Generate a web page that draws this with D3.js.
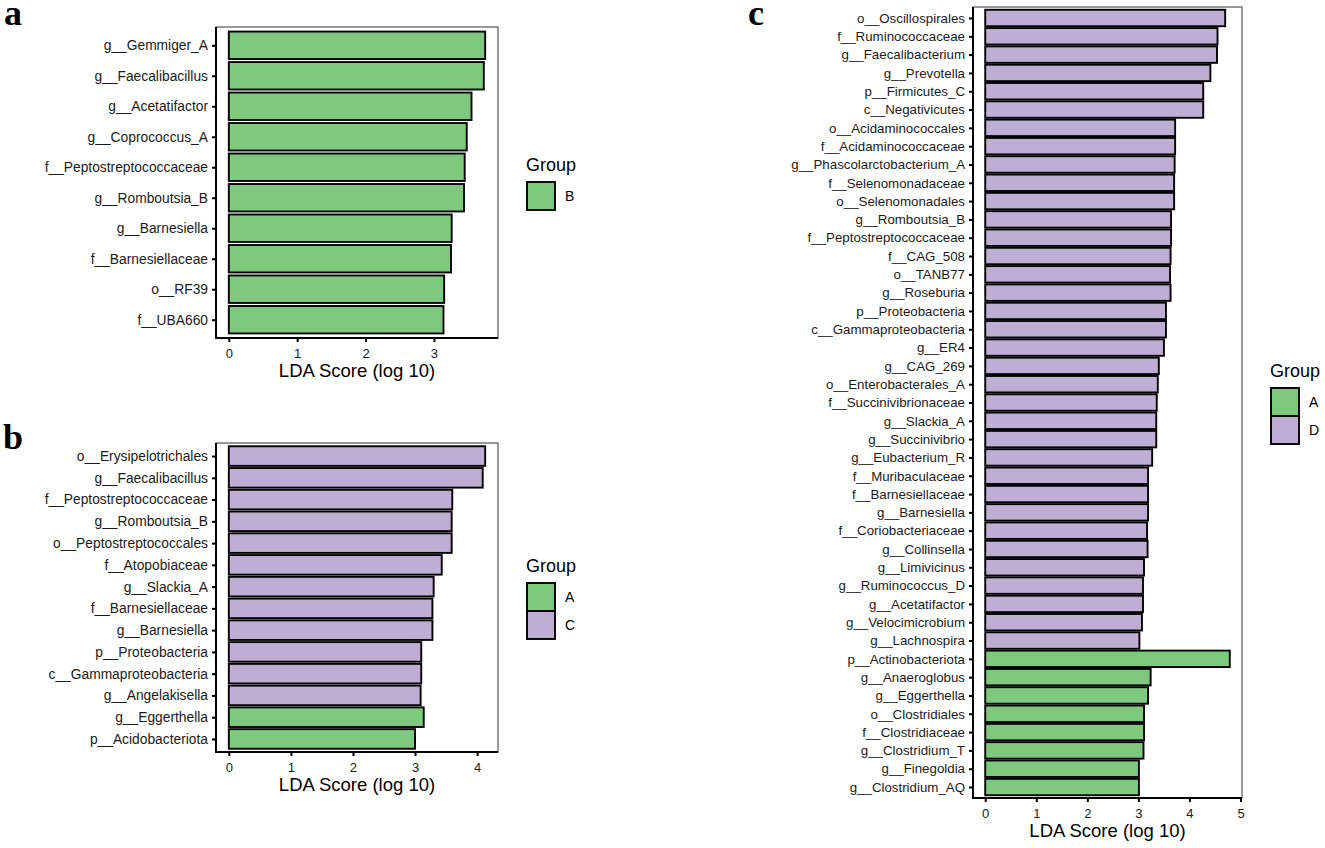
<!DOCTYPE html>
<html>
<head>
<meta charset="utf-8">
<script src="https://cdn.jsdelivr.net/npm/d3@7"></script>
<style>
  body { margin: 0; background: #fff; }
  text { font-family: "Liberation Sans", Arial, sans-serif; }
</style>
</head>
<body>
<svg width="1325" height="848"></svg>
<script>
// colours of the groups (RColorBrewer Accent)
const groupColor = { A: "#7FC97F", B: "#7FC97F", C: "#BEAED4", D: "#BEAED4" };

// panel a
const taxaA = ["g__Gemmiger_A", "g__Faecalibacillus", "g__Acetatifactor", "g__Coprococcus_A",
  "f__Peptostreptococcaceae", "g__Romboutsia_B", "g__Barnesiella", "f__Barnesiellaceae",
  "o__RF39", "f__UBA660"];
const ldaA = [3.75, 3.73, 3.55, 3.48, 3.45, 3.44, 3.26, 3.25, 3.15, 3.14];
const groupA = ["B", "B", "B", "B", "B", "B", "B", "B", "B", "B"];

// panel b
const taxaB = ["o__Erysipelotrichales", "g__Faecalibacillus", "f__Peptostreptococcaceae",
  "g__Romboutsia_B", "o__Peptostreptococcales", "f__Atopobiaceae", "g__Slackia_A",
  "f__Barnesiellaceae", "g__Barnesiella", "p__Proteobacteria", "c__Gammaproteobacteria",
  "g__Angelakisella", "g__Eggerthella", "p__Acidobacteriota"];
const ldaB = [4.13, 4.09, 3.60, 3.59, 3.59, 3.43, 3.30, 3.28, 3.28, 3.10, 3.10, 3.09, 3.14, 3.00];
const groupB = ["C", "C", "C", "C", "C", "C", "C", "C", "C", "C", "C", "C", "A", "A"];

// panel c
const taxaC = ["o__Oscillospirales", "f__Ruminococcaceae", "g__Faecalibacterium", "g__Prevotella",
  "p__Firmicutes_C", "c__Negativicutes", "o__Acidaminococcales", "f__Acidaminococcaceae",
  "g__Phascolarctobacterium_A", "f__Selenomonadaceae", "o__Selenomonadales", "g__Romboutsia_B",
  "f__Peptostreptococcaceae", "f__CAG_508", "o__TANB77", "g__Roseburia", "p__Proteobacteria",
  "c__Gammaproteobacteria", "g__ER4", "g__CAG_269", "o__Enterobacterales_A",
  "f__Succinivibrionaceae", "g__Slackia_A", "g__Succinivibrio", "g__Eubacterium_R",
  "f__Muribaculaceae", "f__Barnesiellaceae", "g__Barnesiella", "f__Coriobacteriaceae",
  "g__Collinsella", "g__Limivicinus", "g__Ruminococcus_D", "g__Acetatifactor",
  "g__Velocimicrobium", "g__Lachnospira", "p__Actinobacteriota", "g__Anaeroglobus",
  "g__Eggerthella", "o__Clostridiales", "f__Clostridiaceae", "g__Clostridium_T",
  "g__Finegoldia", "g__Clostridium_AQ"];
const ldaC = [4.70, 4.55, 4.54, 4.41, 4.27, 4.27, 3.72, 3.72, 3.71, 3.70, 3.70, 3.64,
  3.64, 3.63, 3.62, 3.63, 3.54, 3.54, 3.50, 3.40, 3.38, 3.36, 3.35, 3.35, 3.27,
  3.19, 3.19, 3.19, 3.17, 3.18, 3.11, 3.09, 3.09, 3.07, 3.02, 4.79, 3.24,
  3.19, 3.11, 3.11, 3.10, 3.01, 3.01];
const groupC = ["D", "D", "D", "D", "D", "D", "D", "D", "D", "D", "D", "D", "D", "D", "D",
  "D", "D", "D", "D", "D", "D", "D", "D", "D", "D", "D", "D", "D", "D", "D", "D", "D", "D",
  "D", "D", "A", "A", "A", "A", "A", "A", "A", "A"];

const svg = d3.select("svg");

function drawPanel(p) {
  const data = p.taxa.map((t, i) => ({ taxon: t, lda: p.lda[i], group: p.group[i] }));
  const maxV = d3.max(data, d => d.lda);

  const x = d3.scaleLinear()
    .domain([-maxV * 0.05, maxV * 1.05])
    .range([p.left, p.right]);
  const y = d3.scalePoint()
    .domain(p.taxa)
    .range([p.top, p.bottom])
    .padding(0.6);
  const bh = y.step() * 0.9;

  const g = svg.append("g");

  // panel border (top / right)
  g.append("rect")
    .attr("x", p.left).attr("y", p.top)
    .attr("width", p.right - p.left).attr("height", p.bottom - p.top)
    .attr("fill", "none")
    .attr("stroke", "#555")
    .attr("stroke-width", 1.2);

  g.selectAll(".bar")
    .data(data)
    .enter()
    .append("rect")
    .attr("class", "bar")
    .attr("x", x(0))
    .attr("y", d => y(d.taxon) - bh / 2)
    .attr("width", d => x(d.lda) - x(0))
    .attr("height", bh)
    .attr("fill", d => groupColor[d.group])
    .attr("stroke", "#000")
    .attr("stroke-width", 1.9);

  const yAxis = d3.axisLeft(y).tickSize(4).tickPadding(4);
  const yg = g.append("g")
    .attr("transform", "translate(" + p.left + ",0)")
    .call(yAxis);
  yg.select(".domain").remove();
  yg.selectAll(".tick line").attr("stroke", "#000").attr("stroke-width", 2);
  yg.selectAll(".tick text")
    .attr("fill", "#1a1a1a")
    .style("font-size", p.labelSize + "px")
    .style("font-family", "'Liberation Sans', Arial, sans-serif");

  const xAxis = d3.axisBottom(x).tickValues(p.ticks).tickSize(4).tickPadding(4).tickFormat(d3.format("d"));
  const xg = g.append("g")
    .attr("transform", "translate(0," + p.bottom + ")")
    .call(xAxis);
  xg.select(".domain").remove();
  xg.selectAll(".tick line").attr("stroke", "#000").attr("stroke-width", 2);
  xg.selectAll(".tick text")
    .attr("fill", "#1a1a1a")
    .attr("dy", null)
    .attr("y", 20)
    .style("font-size", "13px")
    .style("font-family", "'Liberation Sans', Arial, sans-serif");

  // axis lines left / bottom
  g.append("line")
    .attr("x1", p.left).attr("x2", p.left)
    .attr("y1", p.top).attr("y2", p.bottom + 1)
    .attr("stroke", "#000").attr("stroke-width", 2);
  g.append("line")
    .attr("x1", p.left - 1).attr("x2", p.right)
    .attr("y1", p.bottom).attr("y2", p.bottom)
    .attr("stroke", "#000").attr("stroke-width", 2);

  g.append("text")
    .attr("x", (p.left + p.right) / 2)
    .attr("y", p.bottom + 39)
    .attr("text-anchor", "middle")
    .attr("font-size", "18.5px")
    .attr("fill", "#000")
    .text("LDA Score (log 10)");

  // legend
  const groups = Array.from(new Set(p.group)).sort();
  const keyH = 28;
  const legTop = (p.top + p.bottom) / 2 - (25 + keyH * groups.length) / 2;
  g.append("text")
    .attr("x", p.legX)
    .attr("y", legTop + 15)
    .attr("font-size", "18px")
    .attr("fill", "#000")
    .text("Group");
  groups.forEach((k, i) => {
    g.append("rect")
      .attr("x", p.legX + 1)
      .attr("y", legTop + 26 + i * keyH)
      .attr("width", keyH)
      .attr("height", keyH)
      .attr("fill", groupColor[k])
      .attr("stroke", "#000")
      .attr("stroke-width", 1.9);
    g.append("text")
      .attr("x", p.legX + keyH + 11)
      .attr("y", legTop + 26 + i * keyH + keyH / 2 + 5)
      .attr("font-size", "14px")
      .attr("fill", "#000")
      .text(k);
  });

  // panel letter
  svg.append("text")
    .attr("x", p.letterX)
    .attr("y", p.letterY)
    .style("font-family", "'Liberation Serif', 'Times New Roman', serif")
    .style("font-weight", "bold")
    .style("font-size", "36px")
    .attr("fill", "#000")
    .text(p.letter);
}

drawPanel({ taxa: taxaA, lda: ldaA, group: groupA, left: 216, right: 498, top: 27, bottom: 338,
  ticks: [0, 1, 2, 3], labelSize: 13.8, legX: 526, letter: "a", letterX: 4, letterY: 25 });
drawPanel({ taxa: taxaB, lda: ldaB, group: groupB, left: 216, right: 498, top: 443, bottom: 752,
  ticks: [0, 1, 2, 3, 4], labelSize: 13.8, legX: 526, letter: "b", letterX: 3, letterY: 449 });
drawPanel({ taxa: taxaC, lda: ldaC, group: groupC, left: 973, right: 1242, top: 7, bottom: 798,
  ticks: [0, 1, 2, 3, 4, 5], labelSize: 13.3, legX: 1270, letter: "c", letterX: 748, letterY: 25 });
</script>
</body>
</html>
